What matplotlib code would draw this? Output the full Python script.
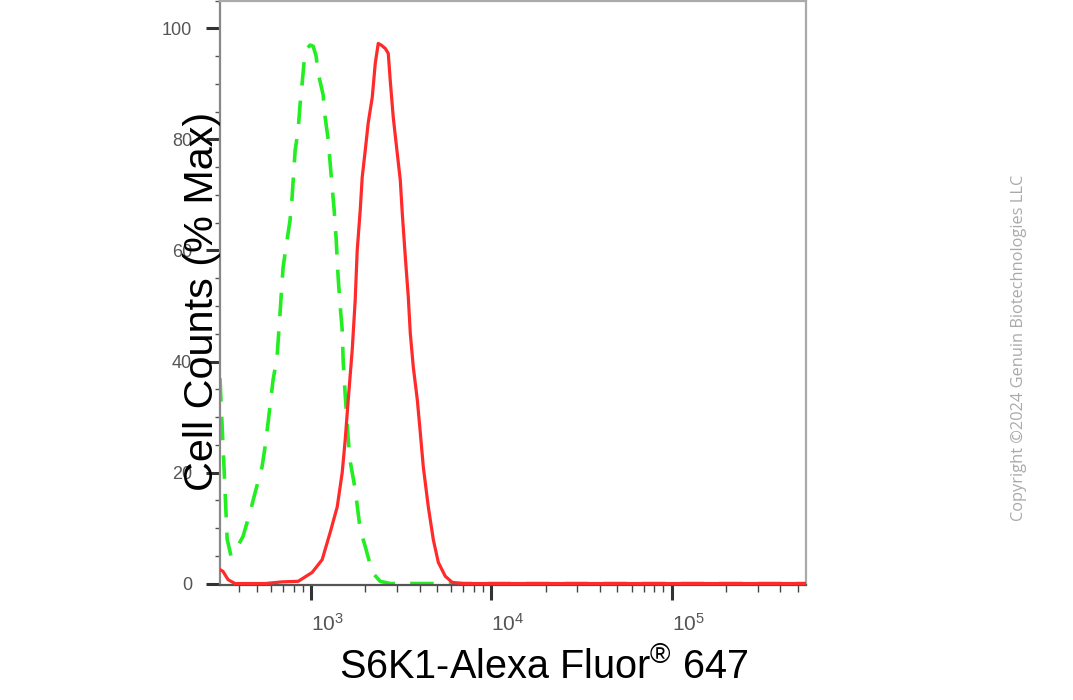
import numpy as np
import matplotlib
matplotlib.use('Agg')
import matplotlib.pyplot as plt
from matplotlib.ticker import FixedLocator, MultipleLocator, NullFormatter, FuncFormatter

plt.rcParams['font.family'] = ['Liberation Sans', 'DejaVu Sans']
plt.rcParams['mathtext.fontset'] = 'custom'
plt.rcParams['mathtext.rm'] = 'Liberation Sans'
plt.rcParams['mathtext.it'] = 'Liberation Sans'

# isotype control (green dashed) - fluorescence vs % max
ctrl_x = [312, 329, 342, 359, 388, 419, 458, 489, 534, 555, 577, 615, 647, 673, 699,
          736, 764, 784, 815, 847, 869, 891, 914, 950, 987, 1026, 1066, 1094, 1166,
          1196, 1243, 1275, 1308, 1342, 1377, 1413, 1449, 1487, 1506, 1545, 1606,
          1647, 1755, 1872, 1995, 2183, 2417, 2747, 5000, 1e4, 1e5, 6e5]
ctrl_y = [37, 20.5, 8, 5, 6.5, 8.5, 12.8, 16.4, 21, 24.6, 29, 36.7, 40.8, 49, 57,
          62, 65.5, 69.6, 78, 81.7, 86.5, 90, 94, 96.4, 97, 96.8, 95, 92, 88,
          84, 80, 75.7, 71.4, 67.3, 62, 55, 50, 45.7, 40, 34, 26,
          22, 17, 9.7, 6.7, 2, 0.4, 0, 0, 0, 0, 0]

# S6K1 stained (red solid)
s6k1_x = [312, 324, 346, 378, 555, 690, 847, 1013, 1151, 1275, 1395, 1487, 1545,
          1606, 1690, 1755, 1801, 1872, 1920, 1995, 2073, 2183, 2268, 2356, 2448,
          2577, 2678, 2747, 2854, 3004, 3122, 3203, 3330, 3459, 3548, 3687, 3881,
          4032, 4190, 4467, 4762, 5077, 5551, 6072, 7000, 1e4, 1e5, 6e5]
s6k1_y = [2.5, 2.2, 0.7, 0, 0, 0.3, 0.4, 2.0, 4.3, 9.2, 13.8, 20, 25.9,
          33.1, 42.1, 51, 60, 67.3, 73.2, 78, 83, 87.6, 93.7, 97.3, 97,
          96.4, 95.5, 90.6, 84, 77.5, 72.7, 66.7, 58.8, 51.6, 45.1, 39, 33.1,
          27.2, 21, 13.8, 7.9, 3.8, 1.3, 0.2, 0, 0, 0, 0]

y_ticks = [0, 20, 40, 60, 80, 100]
x_ticks = [1e3, 1e4, 1e5]

fig = plt.figure(figsize=(10.73, 7), dpi=100)
ax = fig.add_axes([0.205, 0.164, 0.546, 0.835])

ax.plot(s6k1_x, s6k1_y, color='#ff2a2a', lw=2.3, zorder=3)
ax.plot(ctrl_x, ctrl_y, color='#22ee22', lw=2.6, dashes=(6.5, 4.2), zorder=2)

ax.set_xscale('log')
ax.set_xlim(312, 5.55e5)
ax.set_ylim(-0.3, 105)

ax.xaxis.set_major_locator(FixedLocator(x_ticks))
ax.xaxis.set_minor_locator(FixedLocator(
    [m * 10 ** e for e in (2, 3, 4, 5) for m in range(2, 10)]))
ax.xaxis.set_major_formatter(FuncFormatter(lambda v, p: r'$10^{%d}$' % round(np.log10(v))))
ax.xaxis.set_minor_formatter(NullFormatter())

ax.yaxis.set_major_locator(FixedLocator(y_ticks))
ax.yaxis.set_minor_locator(MultipleLocator(5))

ax.tick_params(axis='x', which='major', direction='out', length=11, width=2.2,
               color='#333333', labelsize=15, labelcolor='#555555', pad=9)
ax.tick_params(axis='x', which='minor', direction='out', length=5, width=1,
               color='#444444')
ax.tick_params(axis='y', which='major', direction='out', length=10, width=2.2,
               color='#333333', labelsize=13, labelcolor='#555555', pad=10)
ax.tick_params(axis='y', which='minor', direction='out', length=3.5, width=1,
               color='#555555')
for lab in ax.get_xticklabels():
    lab.set_horizontalalignment('left')

ax.spines['top'].set_color('#aaaaaa')
ax.spines['right'].set_color('#aaaaaa')
ax.spines['left'].set_color('#888888')
ax.spines['bottom'].set_color('#555555')
for s in ax.spines.values():
    s.set_linewidth(1.6)

fig.text(0.188, 0.570, 'Cell Counts (% Max)', rotation=90, ha='center', va='center',
         fontsize=29.8, color='black', zorder=5)
fig.text(0.507, 0.047, 'S6K1-Alexa Fluor$^{®}$ 647', ha='center', va='center',
         fontsize=28.5, color='black')
fig.text(0.950, 0.503, 'Copyright ©2024 Genuin Biotechnologies LLC', rotation=90,
         ha='center', va='center', fontsize=11.8, color='#aaaaaa', family='Open Sans')

fig.savefig('out.png', dpi=100)
